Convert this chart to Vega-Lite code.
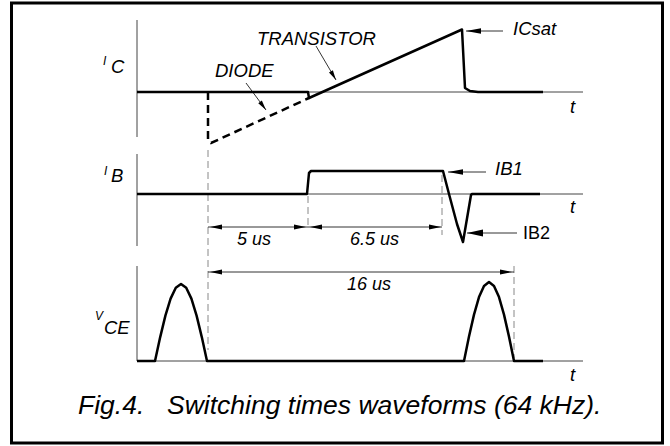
{
  "$schema": "https://vega.github.io/schema/vega-lite/v6.json",
  "width": 670,
  "height": 446,
  "autosize": {"type": "fit", "contains": "padding"},
  "padding": 0,
  "background": "white",
  "config": {"view": {"stroke": null}},
  "datasets": {
    "waves": [
      {"series": "IC", "i": 0, "t": -3.55, "v": 35.4},
      {"series": "IC", "i": 1, "t": 5.0, "v": 35.4},
      {"series": "IC", "i": 2, "t": 5.05, "v": 34.8},
      {"series": "IC", "i": 3, "t": 12.7, "v": 41.65},
      {"series": "IC", "i": 4, "t": 12.85, "v": 35.8},
      {"series": "IC", "i": 5, "t": 13.1, "v": 35.5},
      {"series": "IC", "i": 6, "t": 13.5, "v": 35.4},
      {"series": "IC", "i": 7, "t": 16.75, "v": 35.4},
      {"series": "IB", "i": 0, "t": -3.55, "v": 25.2},
      {"series": "IB", "i": 1, "t": 4.95, "v": 25.2},
      {"series": "IB", "i": 2, "t": 5.05, "v": 27.3},
      {"series": "IB", "i": 3, "t": 5.15, "v": 27.5},
      {"series": "IB", "i": 4, "t": 11.75, "v": 27.5},
      {"series": "IB", "i": 5, "t": 12.05, "v": 25.2},
      {"series": "IB", "i": 6, "t": 12.45, "v": 22.2},
      {"series": "IB", "i": 7, "t": 12.75, "v": 20.4},
      {"series": "IB", "i": 8, "t": 13.15, "v": 25.1},
      {"series": "IB", "i": 9, "t": 13.2, "v": 25.2},
      {"series": "IB", "i": 10, "t": 16.6, "v": 25.2},
      {"series": "VCE", "i": 0, "t": -3.55, "v": 8.5},
      {"series": "VCE", "i": 1, "t": -2.65, "v": 8.5},
      {"series": "VCE", "i": 2, "t": -2.39, "v": 10.89},
      {"series": "VCE", "i": 3, "t": -2.13, "v": 13.04},
      {"series": "VCE", "i": 4, "t": -1.87, "v": 14.74},
      {"series": "VCE", "i": 5, "t": -1.61, "v": 15.82},
      {"series": "VCE", "i": 6, "t": -1.35, "v": 16.2},
      {"series": "VCE", "i": 7, "t": -1.09, "v": 15.82},
      {"series": "VCE", "i": 8, "t": -0.83, "v": 14.74},
      {"series": "VCE", "i": 9, "t": -0.57, "v": 13.04},
      {"series": "VCE", "i": 10, "t": -0.31, "v": 10.89},
      {"series": "VCE", "i": 11, "t": -0.05, "v": 8.5},
      {"series": "VCE", "i": 12, "t": 12.8, "v": 8.5},
      {"series": "VCE", "i": 13, "t": 13.05, "v": 10.94},
      {"series": "VCE", "i": 14, "t": 13.3, "v": 13.14},
      {"series": "VCE", "i": 15, "t": 13.55, "v": 14.89},
      {"series": "VCE", "i": 16, "t": 13.8, "v": 16.01},
      {"series": "VCE", "i": 17, "t": 14.05, "v": 16.4},
      {"series": "VCE", "i": 18, "t": 14.3, "v": 16.01},
      {"series": "VCE", "i": 19, "t": 14.55, "v": 14.89},
      {"series": "VCE", "i": 20, "t": 14.8, "v": 13.14},
      {"series": "VCE", "i": 21, "t": 15.05, "v": 10.94},
      {"series": "VCE", "i": 22, "t": 15.3, "v": 8.5},
      {"series": "VCE", "i": 23, "t": 16.75, "v": 8.5}
    ],
    "diode": [
      {"i": 0, "t": 0, "v": 35.4},
      {"i": 1, "t": 0, "v": 30.6},
      {"i": 2, "t": 0.15, "v": 30.3},
      {"i": 3, "t": 5.05, "v": 34.8}
    ],
    "axes": [
      {"t": -3.55, "v": 42.6, "t2": -3.55, "v2": 30.9},
      {"t": -3.55, "v": 29.2, "t2": -3.55, "v2": 20.0},
      {"t": -3.55, "v": 18.0, "t2": -3.55, "v2": 8.5},
      {"t": -3.55, "v": 35.4, "t2": 18.75, "v2": 35.4},
      {"t": -3.55, "v": 25.2, "t2": 18.75, "v2": 25.2},
      {"t": -3.55, "v": 8.5, "t2": 18.75, "v2": 8.5}
    ],
    "guides": [
      {"t": 0, "v": 29.6, "t2": 0, "v2": 9.6},
      {"t": 5, "v": 25.0, "t2": 5, "v2": 21.8},
      {"t": 11.7, "v": 27.1, "t2": 11.7, "v2": 21.1},
      {"t": 15.3, "v": 18.0, "t2": 15.3, "v2": 8.8}
    ],
    "dims": [
      {"t": 0, "v": 21.9, "t2": 5, "v2": 21.9},
      {"t": 5, "v": 21.9, "t2": 11.7, "v2": 21.9},
      {"t": 0, "v": 17.4, "t2": 15.3, "v2": 17.4},
      {"t": 12.9, "v": 41.5, "t2": 14.75, "v2": 41.5},
      {"t": 12.0, "v": 27.4, "t2": 13.9, "v2": 27.4},
      {"t": 12.95, "v": 21.3, "t2": 15.45, "v2": 21.3},
      {"t": 1.9, "v": 36.3, "t2": 2.9, "v2": 33.6},
      {"t": 5.4, "v": 40.0, "t2": 6.4, "v2": 36.6}
    ],
    "frame": [
      {"t": -9.825, "v": 0.3, "t2": 22.725, "v2": 44.3}
    ]
  },
  "encoding": {
    "x": {"field": "t", "type": "quantitative", "scale": {"domain": [-10.4, 23.1], "nice": false, "zero": false}, "axis": null},
    "y": {"field": "v", "type": "quantitative", "scale": {"domain": [0, 44.6], "nice": false, "zero": false}, "axis": null}
  },
  "layer": [
    {
      "data": {"name": "frame"},
      "mark": {"type": "rect", "fillOpacity": 0, "stroke": "black", "strokeWidth": 3},
      "encoding": {"x2": {"field": "t2"}, "y2": {"field": "v2"}}
    },
    {
      "data": {"name": "axes"},
      "mark": {"type": "rule", "color": "#444444", "strokeWidth": 1},
      "encoding": {"x2": {"field": "t2"}, "y2": {"field": "v2"}}
    },
    {
      "data": {"name": "guides"},
      "mark": {"type": "rule", "color": "#888888", "strokeWidth": 1, "strokeDash": [7, 4]},
      "encoding": {"x2": {"field": "t2"}, "y2": {"field": "v2"}}
    },
    {
      "data": {"name": "dims"},
      "mark": {"type": "rule", "color": "#333333", "strokeWidth": 1},
      "encoding": {"x2": {"field": "t2"}, "y2": {"field": "v2"}}
    },
    {
      "data": {"name": "waves"},
      "mark": {"type": "line", "color": "black", "strokeWidth": 2.5, "strokeJoin": "round"},
      "encoding": {"detail": {"field": "series"}, "order": {"field": "i", "type": "quantitative"}}
    },
    {
      "data": {"name": "diode"},
      "mark": {"type": "line", "color": "black", "strokeWidth": 2.5, "strokeDash": [8, 5]},
      "encoding": {"order": {"field": "i", "type": "quantitative"}}
    },
    {
      "data": {"values": [{"t": 4.9, "v": 21.9}, {"t": 11.65, "v": 21.9}, {"t": 15.2, "v": 17.4}]},
      "mark": {"type": "point", "shape": "M0,0L-2,-0.42L-2,0.42Z", "size": 144, "filled": true, "opacity": 1, "color": "black", "strokeWidth": 0, "angle": 0}
    },
    {
      "data": {"values": [{"t": 0.1, "v": 21.9}, {"t": 5.1, "v": 21.9}, {"t": 0.1, "v": 17.4}]},
      "mark": {"type": "point", "shape": "M0,0L-2,-0.42L-2,0.42Z", "size": 144, "filled": true, "opacity": 1, "color": "black", "strokeWidth": 0, "angle": 180}
    },
    {
      "data": {"values": [{"t": 12.9, "v": 41.5}, {"t": 12.0, "v": 27.4}]},
      "mark": {"type": "point", "shape": "M0,0L-2,-0.36L-2,0.36Z", "size": 225, "filled": true, "opacity": 1, "color": "black", "strokeWidth": 0, "angle": 180}
    },
    {
      "data": {"values": [{"t": 12.95, "v": 21.3}]},
      "mark": {"type": "point", "shape": "M0,0L-2,-0.45L-2,0.45Z", "size": 256, "filled": true, "opacity": 1, "color": "black", "strokeWidth": 0, "angle": 180}
    },
    {
      "data": {"values": [{"t": 2.9, "v": 33.6}]},
      "mark": {"type": "point", "shape": "M0,0L-2,-0.45L-2,0.45Z", "size": 100, "filled": true, "opacity": 1, "color": "black", "strokeWidth": 0, "angle": 53.5}
    },
    {
      "data": {"values": [{"t": 6.4, "v": 36.6}]},
      "mark": {"type": "point", "shape": "M0,0L-2,-0.45L-2,0.45Z", "size": 100, "filled": true, "opacity": 1, "color": "black", "strokeWidth": 0, "angle": 59.5}
    },
    {
      "data": {"values": [
        {"label": "I", "t": -5.25, "v": 38.1},
        {"label": "I", "t": -5.2, "v": 27.1},
        {"label": "V", "t": -5.65, "v": 12.6}
      ]},
      "mark": {"type": "text", "align": "left", "baseline": "alphabetic", "font": "Liberation Sans", "fontStyle": "italic", "fontSize": 12, "color": "black"},
      "encoding": {"text": {"field": "label"}}
    },
    {
      "data": {"values": [
        {"label": "C", "t": -4.85, "v": 37.3},
        {"label": "B", "t": -4.85, "v": 26.4},
        {"label": "CE", "t": -5.2, "v": 11.2}
      ]},
      "mark": {"type": "text", "align": "left", "baseline": "alphabetic", "font": "Liberation Sans", "fontStyle": "italic", "fontSize": 18.5, "color": "black"},
      "encoding": {"text": {"field": "label"}}
    },
    {
      "data": {"values": [
        {"label": "DIODE", "t": 0.35, "v": 36.9},
        {"label": "TRANSISTOR", "t": 2.45, "v": 40.1},
        {"label": "ICsat", "t": 15.25, "v": 41.1},
        {"label": "IB1", "t": 14.35, "v": 27.1},
        {"label": "t", "t": 18.1, "v": 33.3},
        {"label": "t", "t": 18.1, "v": 23.3},
        {"label": "t", "t": 18.1, "v": 6.5}
      ]},
      "mark": {"type": "text", "align": "left", "baseline": "alphabetic", "font": "Liberation Sans", "fontStyle": "italic", "fontSize": 18.5, "color": "black"},
      "encoding": {"text": {"field": "label"}}
    },
    {
      "data": {"values": [{"label": "IB2", "t": 15.75, "v": 20.7}]},
      "mark": {"type": "text", "align": "left", "baseline": "alphabetic", "font": "Liberation Sans", "fontSize": 18, "color": "black"},
      "encoding": {"text": {"field": "label"}}
    },
    {
      "data": {"values": [
        {"label": "5 us", "t": 1.45, "v": 20.1},
        {"label": "6.5 us", "t": 7.1, "v": 20.1},
        {"label": "16 us", "t": 6.95, "v": 15.6}
      ]},
      "mark": {"type": "text", "align": "left", "baseline": "alphabetic", "font": "Liberation Sans", "fontStyle": "italic", "fontSize": 18, "color": "black"},
      "encoding": {"text": {"field": "label"}}
    },
    {
      "data": {"values": [
        {"label": "Fig.4.", "t": -6.5, "v": 3.2},
        {"label": "Switching times waveforms (64 kHz).", "t": -2.05, "v": 3.2}
      ]},
      "mark": {"type": "text", "align": "left", "baseline": "alphabetic", "font": "Liberation Sans", "fontStyle": "italic", "fontSize": 26.5, "color": "black"},
      "encoding": {"text": {"field": "label"}}
    }
  ]
}
